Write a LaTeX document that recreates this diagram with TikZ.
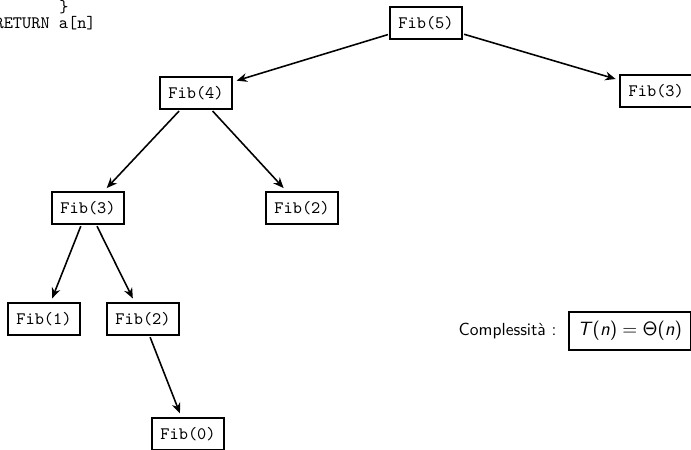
\documentclass[tikz,border=0pt]{standalone}
\usetikzlibrary{arrows.meta}

\begin{document}
\begin{tikzpicture}[
  x=0.5714pt, y=-0.5714pt,
  callbox/.style={draw, line width=1.1pt, inner xsep=5pt, inner ysep=5.5pt,
    font=\ttfamily},
  callarrow/.style={-{Stealth[length=6pt,width=5pt]}, line width=0.9pt,
    shorten >=2pt, shorten <=0.5pt},
]
  \useasboundingbox (0,0) rectangle (691,449);

  % tail of the iterative listing
  \node[anchor=base, inner sep=0pt, font=\ttfamily] (brace) at (64,12) {\}};
  \node[anchor=base east, inner sep=0pt, font=\ttfamily] (ret) at (96,28)
    {RETURN a[n]};

  % recursion tree of Fib(5)
  \node[callbox] (f5)  at (426,23)  {Fib(5)};
  \node[callbox] (f4)  at (196,93)  {Fib(4)};
  \node[callbox, anchor=west] (f3r) at (619,91) {Fib(3)};
  \node[callbox] (f3)  at (88,208)  {Fib(3)};
  \node[callbox] (f2a) at (302,208) {Fib(2)};
  \node[callbox] (f1)  at (44,319)  {Fib(1)};
  \node[callbox] (f2b) at (143,319) {Fib(2)};
  \node[callbox] (f0)  at (188,434) {Fib(0)};

  \draw[callarrow] (f5) -- (f4);
  \draw[callarrow] (f5) -- (f3r);
  \draw[callarrow] (f4) -- (f3);
  \draw[callarrow] (f4) -- (f2a);
  \draw[callarrow] (f3) -- (f1);
  \draw[callarrow] (f3) -- (f2b);
  \draw[callarrow] (f2b) -- (f0);

  % complexity
  \node[draw, line width=1.1pt, anchor=west, inner xsep=5pt, inner ysep=5.5pt,
    font=\fontsize{11}{13}\selectfont\sffamily] (cx) at (568,331)
    {\textit{T}(\textit{n})${}={}$$\mathsf{\Theta}$(\textit{n})};
  \node[anchor=east, font=\sffamily] (cxl) at ([xshift=-3pt]cx.west)
    {Complessit\`a :};
\end{tikzpicture}
\end{document}
